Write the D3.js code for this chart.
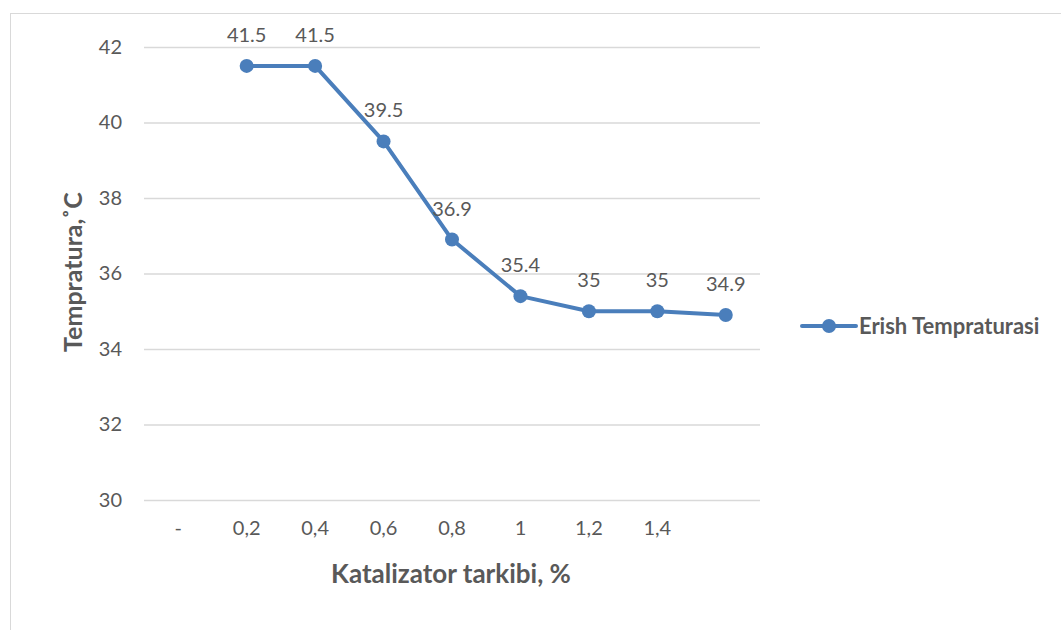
<!DOCTYPE html>
<html>
<head>
<meta charset="utf-8">
<script src="https://cdn.jsdelivr.net/npm/d3@7"></script>
<style>
  body { margin: 0; background: #fff; }
  text { font-family: Lato, "Open Sans", sans-serif; fill: #595959; }
</style>
</head>
<body>
<div id="chart"></div>
<script>
// chart data
var categories = ["-", "0,2", "0,4", "0,6", "0,8", "1", "1,2", "1,4", ""];
var temps = [null, 41.5, 41.5, 39.5, 36.9, 35.4, 35, 35, 34.9];
var yTicks = [30, 32, 34, 36, 38, 40, 42];
var seriesName = "Erish Tempraturasi";

var svgWidth = 1061;
var svgHeight = 630;

var margin = { top: 47, right: 301, bottom: 130, left: 144 };
var width = svgWidth - margin.left - margin.right;
var height = svgHeight - margin.top - margin.bottom;

var svg = d3.select("#chart")
    .append("svg")
    .attr("width", svgWidth)
    .attr("height", svgHeight);

// outer chart border
svg.append("rect")
    .attr("x", 10.5)
    .attr("y", 13.5)
    .attr("width", svgWidth + 10)
    .attr("height", svgHeight + 10)
    .attr("fill", "none")
    .attr("stroke", "#d9d9d9");

var chartGroup = svg.append("g")
    .attr("transform", `translate(${margin.left}, ${margin.top})`);

var xScale = d3.scaleBand()
    .domain(categories.map((c, i) => i))
    .range([0, width]);

var yScale = d3.scaleLinear()
    .domain([30, 42])
    .range([height, 0]);

// gridlines
chartGroup.selectAll(".grid")
    .data(yTicks)
    .enter()
    .append("line")
    .attr("x1", 0)
    .attr("x2", width)
    .attr("y1", d => yScale(d) + 0.5)
    .attr("y2", d => yScale(d) + 0.5)
    .attr("stroke", "#d9d9d9")
    .attr("stroke-width", 1.3);

// y axis
var leftAxis = d3.axisLeft(yScale).tickValues(yTicks).tickSize(0).tickPadding(22);
var yAxis = chartGroup.append("g").call(leftAxis);
yAxis.select(".domain").remove();
yAxis.selectAll("text").style("font-size", "20px").attr("fill", "#595959");

// x axis
var bottomAxis = d3.axisBottom(xScale).tickSize(0).tickPadding(21).tickFormat(i => categories[i]);
var xAxis = chartGroup.append("g")
    .attr("transform", `translate(0, ${height})`)
    .call(bottomAxis);
xAxis.select(".domain").remove();
xAxis.selectAll("text").style("font-size", "20px").attr("fill", "#595959");

var points = temps.map((v, i) => ({ i: i, v: v })).filter(d => d.v !== null);
var cx = d => xScale(d.i) + xScale.bandwidth() / 2;

var line = d3.line()
    .x(cx)
    .y(d => yScale(d.v));

chartGroup.append("path")
    .datum(points)
    .attr("d", line)
    .attr("fill", "none")
    .attr("stroke", "#4a7ebb")
    .attr("stroke-width", 4)
    .attr("stroke-linejoin", "round")
    .attr("stroke-linecap", "round");

chartGroup.selectAll(".dot")
    .data(points)
    .enter()
    .append("circle")
    .attr("cx", cx)
    .attr("cy", d => yScale(d.v))
    .attr("r", 7)
    .attr("fill", "#4a7ebb");

chartGroup.selectAll(".lbl")
    .data(points)
    .enter()
    .append("text")
    .attr("x", cx)
    .attr("y", d => yScale(d.v) - 24)
    .attr("text-anchor", "middle")
    .style("font-size", "20px")
    .attr("fill", "#404040")
    .text(d => d.v);

// axis titles
svg.append("text")
    .attr("x", 451)
    .attr("y", 583)
    .attr("text-anchor", "middle")
    .style("font-size", "26px")
    .style("font-weight", "bold")
    .text("Katalizator tarkibi, %");

svg.append("text")
    .attr("transform", `translate(82, 272) rotate(-90)`)
    .attr("text-anchor", "middle")
    .style("font-size", "25px")
    .style("font-weight", "bold")
    .text("Tempratura,˚C");

// legend
var legend = svg.append("g").attr("transform", "translate(800, 326)");
legend.append("line")
    .attr("x1", 2).attr("x2", 56)
    .attr("stroke", "#4a7ebb")
    .attr("stroke-width", 4)
    .attr("stroke-linecap", "round");
legend.append("circle")
    .attr("cx", 29)
    .attr("r", 7)
    .attr("fill", "#4a7ebb");
legend.append("text")
    .attr("x", 59)
    .attr("y", 8)
    .style("font-size", "22px")
    .style("font-weight", "bold")
    .text(seriesName);
</script>
</body>
</html>
